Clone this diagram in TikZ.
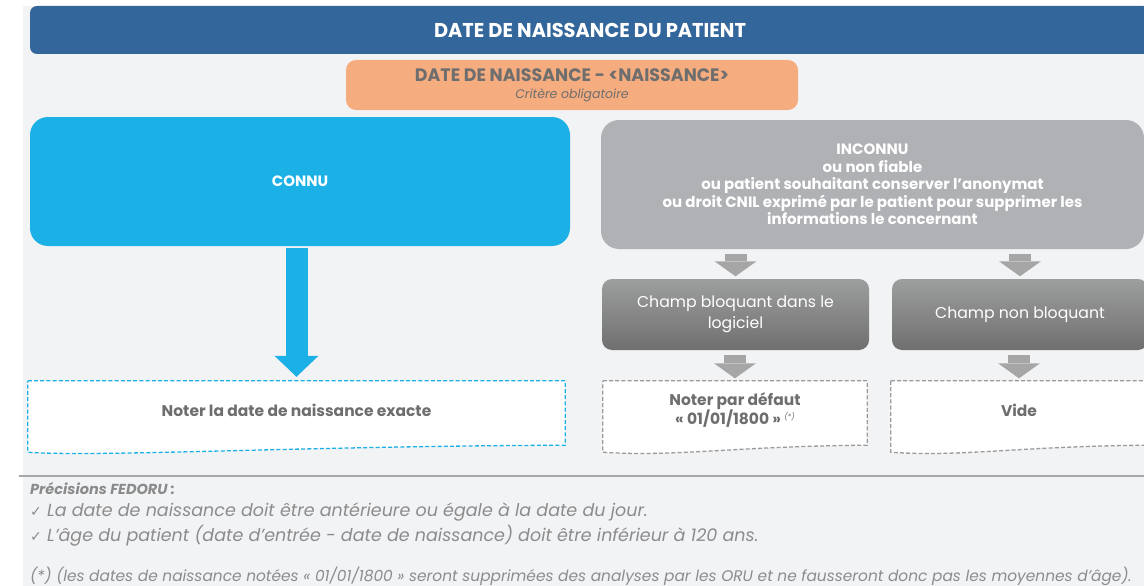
\documentclass[tikz,border=0pt]{standalone}
\usepackage{fontspec}
\setmainfont{Poppins}
\newfontfamily\condfont[FakeStretch=0.97]{Poppins}
\newfontfamily\symbfont{DejaVu Sans}
\usetikzlibrary{positioning, calc, arrows.meta, backgrounds}

\definecolor{fondgris}{HTML}{F2F3F5}
\definecolor{bandeau}{HTML}{33669A}
\definecolor{orangec}{HTML}{F5AC7E}
\definecolor{bleuc}{HTML}{1BB0E6}
\definecolor{grisclair}{HTML}{B0B1B5}
\definecolor{champhaut}{HTML}{9D9E9E}
\definecolor{champbas}{HTML}{6F6F6F}
\definecolor{textegris}{HTML}{6E6E6E}
\definecolor{tiretgris}{HTML}{9B9B9B}
\definecolor{flechegris}{HTML}{A6A6A6}
\definecolor{textebas}{HTML}{8C8C8C}

\newcommand{\coche}{\makebox[17pt][l]{\symbfont\fontsize{14}{16}\selectfont ✓}}

\begin{document}
\begin{tikzpicture}[
        x=1pt, y=-1pt,
        % bandeau du titre
        titre/.style={rectangle, rounded corners=7pt, fill=bandeau, text=white, inner sep=0pt,
            font=\condfont\bfseries\fontsize{20}{24}\selectfont},
        % critere en orange
        critere/.style={rectangle, rounded corners=10pt, fill=orangec, text=textegris, align=center, inner sep=0pt,
            font=\condfont\bfseries\fontsize{18}{20}\selectfont},
        % grandes boites du choix
        choix/.style={rectangle, rounded corners=18pt, text=white, align=center, inner sep=0pt,
            minimum height=129pt, font=\bfseries\fontsize{15}{17.5}\selectfont},
        % boites en degrade
        champ/.style={rectangle, rounded corners=10pt, top color=champhaut, bottom color=champbas, text=white,
            align=center, inner sep=0pt, minimum height=71pt, font=\fontsize{15.7}{21}\selectfont},
        % boites a bord ondule (le contour est trace plus bas)
        docbox/.style={rectangle, align=center, inner sep=0pt, minimum height=58pt, text=textegris,
            font=\bfseries\fontsize{15.5}{17}\selectfont},
        doctrait/.style={fill=white, line width=1.3pt, dash pattern=on 4pt off 2.2pt},
        % grosses fleches
        flecheg/.style={draw=flechegris, line width=22pt, shorten <=5pt, shorten >=2.5pt,
            -{Triangle[length=15pt, width=42pt, line width=0pt]}},
        % textes du bas
        notebas/.style={anchor=west, inner sep=0pt, text=textebas, font=\itshape\fontsize{17.5}{20}\selectfont}
    ]
        \useasboundingbox (0,0) rectangle (1144,586);
        \begin{scope}[on background layer]
            \fill[fondgris] (23,6) rectangle (1144,586);
        \end{scope}

        % Titre et critere
        \node[titre, minimum width=1120pt, minimum height=48pt] (bandeau) at (590,30) {DATE DE NAISSANCE DU PATIENT};
        \node[critere, minimum width=452pt, minimum height=50pt] (critere) at (572,85)
            {DATE DE NAISSANCE - <NAISSANCE>\\[-3pt]{\normalfont\itshape\fontsize{12.5}{15}\selectfont Critère obligatoire}};

        % Les deux cas
        \node[choix, fill=bleuc, minimum width=540pt] (connu) at (300,181.5) {CONNU};
        \node[choix, fill=grisclair, minimum width=543pt] (inconnu) at (872.5,184.5)
            {INCONNU\\ou non fiable\\ou patient souhaitant conserver l’anonymat\\ou droit CNIL exprimé par le patient pour supprimer les\\informations le concernant};

        \node[champ, minimum width=267pt] (bloquant) at (735.5,314.5) {Champ bloquant dans le\\logiciel};
        \node[champ, minimum width=256pt] (nonbloq) at (1020,314.5) {Champ non bloquant};

        % Resultats
        \node[docbox, minimum width=537pt] (exacte) at (296.5,410) {Noter la date de naissance exacte};
        \node[docbox, minimum width=264pt] (defaut) at (735,410)
            {Noter par défaut\\« 01/01/1800 » \raisebox{5pt}{\normalfont\itshape\fontsize{7.5}{8}\selectfont(*)}};
        \node[docbox, minimum width=256pt] (vide) at (1019,410) {Vide};

        \begin{scope}[on background layer]
            \foreach \n/\c in {exacte/bleuc, defaut/tiretgris, vide/tiretgris}
                \draw[doctrait, draw=\c] (\n.north west) -- (\n.north east) -- ($(\n.south east)+(0,-6pt)$)
                    .. controls ($(\n.south)+(0,-7pt)$) and ($(\n.south west)+(70pt,-18pt)$) .. ($(\n.south west)+(0,-13pt)$) -- cycle;
        \end{scope}

        % Fleches
        \draw[draw=bleuc, line width=22pt, shorten <=2pt, shorten >=4pt,
            -{Triangle[length=21pt, width=44pt, line width=0pt]}] (connu.south -| exacte.north) -- (exacte.north);
        \foreach \a/\b in {inconnu/bloquant, inconnu/nonbloq, bloquant/defaut, nonbloq/vide}
            \draw[flecheg] (\a.south -| \b.north) -- (\b.north);

        % Precisions
        \draw[flechegris, line width=1.5pt] (19,476) -- (1144,476);
        \node[notebas, font=\bfseries\itshape\fontsize{14.5}{17}\selectfont, text=textegris!80] (precisions) at (30,489) {Précisions FEDORU :};
        \node[notebas] (regle1) at (30,512) {\coche La date de naissance doit être antérieure ou égale à la date du jour.};
        \node[notebas] (regle2) at (30,536) {\coche L’âge du patient (date d’entrée - date de naissance) doit être inférieur à 120 ans.};
        \node[notebas, font=\itshape\fontsize{15.4}{18}\selectfont] (renvoi) at (30,576) {(*) (les dates de naissance notées « 01/01/1800 » seront supprimées des analyses par les ORU et ne fausseront donc pas les moyennes d’âge).};
    \end{tikzpicture}
\end{document}
